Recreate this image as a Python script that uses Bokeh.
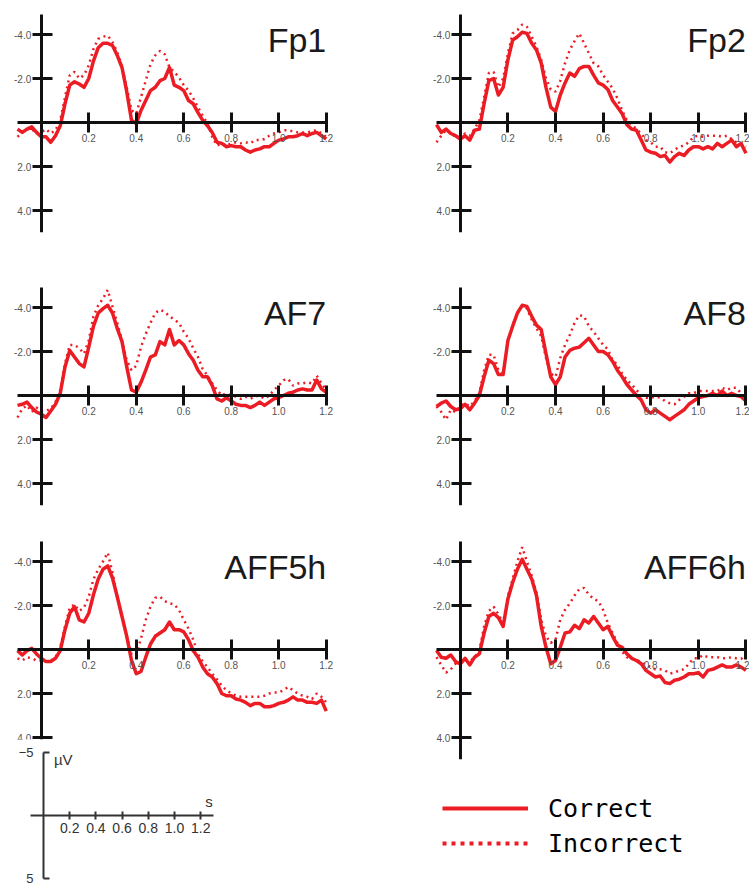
from bokeh.plotting import figure
from bokeh.layouts import row, column
from bokeh.models import Range1d, FixedTicker, NumeralTickFormatter, Label, Legend, LegendItem
from bokeh.embed import file_html
from bokeh.resources import INLINE

# ---------------- data (µV) ----------------
time_s = [-0.10, -0.08, -0.06, -0.04, -0.02, 0.00, 0.02, 0.04, 0.06, 0.08,
          0.10, 0.12, 0.14, 0.16, 0.18, 0.20, 0.22, 0.24, 0.26, 0.28,
          0.30, 0.32, 0.34, 0.36, 0.38, 0.40, 0.42, 0.44, 0.46, 0.48,
          0.50, 0.52, 0.54, 0.56, 0.58, 0.60, 0.62, 0.64, 0.66, 0.68,
          0.70, 0.72, 0.74, 0.76, 0.78, 0.80, 0.82, 0.84, 0.86, 0.88,
          0.90, 0.92, 0.94, 0.96, 0.98, 1.00, 1.02, 1.04, 1.06, 1.08,
          1.10, 1.12, 1.14, 1.16, 1.18, 1.20]

fp1_correct = [0.3, 0.45, 0.3, 0.2, 0.45, 0.65, 0.65, 0.9, 0.6, 0.15,
               -0.85, -1.7, -1.85, -1.75, -1.6, -2.0, -2.8, -3.4, -3.6, -3.6,
               -3.5, -3.05, -2.5, -1.4, -0.1, 0.05, -0.55, -1.0, -1.45, -1.6,
               -1.9, -2.0, -2.5, -1.7, -1.6, -1.45, -1.0, -0.85, -0.45, -0.1,
               0.15, 0.45, 0.9, 0.95, 1.1, 1.05, 1.1, 1.1, 1.25, 1.35,
               1.25, 1.2, 1.1, 1.1, 0.95, 0.8, 0.75, 0.65, 0.65, 0.6,
               0.5, 0.6, 0.5, 0.45, 0.6, 0.75]
fp1_incorrect = [0.65, 0.45, 0.3, 0.3, 0.5, 0.45, 0.3, 0.5, 0.35, -0.1,
                 -1.15, -2.15, -2.3, -2.0, -2.15, -2.6, -3.35, -3.8, -3.9, -3.95,
                 -3.65, -3.2, -2.5, -1.6, -0.55, -0.4, -1.15, -1.9, -2.65, -3.05,
                 -3.25, -3.1, -2.5, -2.3, -2.05, -1.7, -1.45, -1.1, -0.7, -0.3,
                 0.05, 0.65, 1.05, 0.95, 1.05, 0.95, 0.9, 0.95, 0.9, 0.95,
                 0.8, 0.8, 0.75, 0.6, 0.5, 0.45, 0.35, 0.35, 0.4, 0.45,
                 0.45, 0.45, 0.4, 0.35, 0.5, 0.65]

fp2_correct = [0.1, 0.45, 0.3, 0.5, 0.6, 0.75, 0.6, 0.8, 0.35, 0.3,
               -0.85, -1.9, -2.0, -1.25, -1.6, -2.85, -3.75, -3.9, -4.1, -4.05,
               -3.6, -3.3, -2.7, -1.6, -0.7, -0.5, -1.25, -1.8, -2.25, -2.1,
               -2.45, -2.55, -2.55, -2.15, -1.8, -1.7, -1.5, -1.0, -0.7, -0.4,
               0.1, 0.3, 0.35, 0.8, 1.25, 1.35, 1.4, 1.55, 1.5, 1.8,
               1.55, 1.4, 1.5, 1.25, 1.1, 1.1, 1.2, 1.1, 1.2, 0.95,
               1.1, 0.95, 0.8, 1.1, 0.95, 1.4]
fp2_incorrect = [0.9, 0.6, 0.35, 0.5, 0.65, 0.65, 0.5, 0.6, 0.3, -0.1,
                 -1.15, -2.25, -2.3, -1.6, -2.0, -3.15, -4.05, -4.2, -4.45, -4.35,
                 -3.9, -3.45, -2.85, -2.0, -1.5, -1.4, -1.9, -2.7, -3.3, -3.7,
                 -4.05, -3.6, -3.15, -2.7, -2.55, -2.15, -1.85, -1.55, -1.1, -0.55,
                 -0.1, 0.1, 0.3, 0.5, 0.8, 0.9, 1.1, 1.1, 1.35, 1.4,
                 1.25, 1.1, 1.05, 0.9, 0.65, 0.6, 0.65, 0.6, 0.6, 0.6,
                 0.65, 0.6, 0.75, 0.9, 0.95, 1.1]

af7_correct = [0.45, 0.4, 0.3, 0.55, 0.75, 0.85, 1.0, 0.7, 0.4, -0.1,
               -1.3, -2.05, -1.75, -1.45, -1.3, -2.2, -3.15, -3.75, -3.95, -4.1,
               -3.75, -3.05, -2.45, -1.3, -0.25, -0.15, -0.6, -1.15, -1.75, -1.85,
               -2.45, -2.3, -3.0, -2.3, -2.5, -2.3, -1.9, -1.6, -1.15, -0.85,
               -0.85, -0.45, 0.15, 0.25, 0.1, 0.25, 0.4, 0.45, 0.45, 0.55,
               0.45, 0.3, 0.45, 0.3, 0.15, 0.1, 0.0, -0.1, -0.15, -0.25,
               -0.3, -0.25, -0.25, -0.7, -0.3, -0.15]
af7_incorrect = [1.0, 0.6, 0.45, 0.75, 0.55, 0.7, 0.7, 0.6, 0.3, -0.25,
                 -1.45, -2.3, -2.3, -2.15, -1.9, -2.5, -3.6, -4.1, -4.4, -4.8,
                 -4.05, -3.3, -2.5, -1.6, -1.15, -1.35, -2.2, -2.8, -3.3, -3.75,
                 -3.9, -3.8, -3.6, -3.45, -3.3, -2.9, -2.6, -2.15, -1.75, -1.2,
                 -0.9, -0.55, -0.25, 0.0, -0.1, 0.0, 0.05, 0.15, 0.05, 0.15,
                 0.05, 0.0, 0.15, 0.0, -0.25, -0.45, -0.7, -0.75, -0.45, -0.55,
                 -0.55, -0.6, -0.55, -0.9, -0.55, -0.25]

af8_correct = [0.5, 0.35, 0.25, 0.5, 0.65, 0.6, 0.4, 0.65, 0.35, 0.0,
               -0.85, -1.6, -1.45, -0.95, -0.95, -2.5, -3.15, -3.75, -4.1, -4.05,
               -3.6, -3.2, -3.0, -1.9, -0.85, -0.5, -0.85, -1.75, -2.05, -2.15,
               -2.2, -2.4, -2.6, -2.3, -2.0, -2.0, -1.85, -1.55, -1.15, -0.85,
               -0.5, -0.25, 0.0, 0.2, 0.65, 0.8, 0.65, 0.8, 0.95, 1.1,
               0.95, 0.8, 0.65, 0.4, 0.25, 0.1, 0.05, 0.0, -0.1, 0.0,
               -0.2, 0.0, -0.1, 0.0, 0.05, 0.25]
af8_incorrect = [0.5, 0.75, 1.1, 0.65, 0.75, 0.5, 0.35, 0.5, 0.25, -0.1,
                 -1.15, -1.85, -1.85, -1.15, -1.0, -2.45, -3.2, -3.75, -4.1, -3.95,
                 -3.45, -3.05, -2.7, -1.7, -1.0, -0.85, -1.7, -2.3, -2.75, -3.3,
                 -3.65, -3.6, -3.15, -2.9, -2.6, -2.3, -2.1, -1.6, -1.4, -1.0,
                 -0.7, -0.5, -0.25, 0.0, 0.1, 0.1, 0.05, 0.1, 0.25, 0.35,
                 0.4, 0.2, 0.05, -0.1, -0.1, -0.2, -0.2, -0.2, -0.2, -0.2,
                 -0.35, -0.25, -0.35, -0.35, -0.1, 0.2]

aff5h_correct = [0.05, 0.25, 0.05, -0.05, 0.2, 0.4, 0.55, 0.55, 0.4, 0.05,
                 -0.9, -1.65, -1.95, -1.35, -1.25, -1.65, -2.5, -3.2, -3.65, -3.8,
                 -3.25, -2.4, -1.5, -0.6, 0.5, 1.1, 1.0, 0.35, -0.25, -0.6,
                 -0.75, -0.9, -1.25, -0.9, -0.9, -0.8, -0.45, 0.05, 0.35, 0.8,
                 1.1, 1.25, 1.55, 2.0, 2.1, 2.1, 2.25, 2.3, 2.4, 2.55,
                 2.45, 2.45, 2.6, 2.6, 2.55, 2.45, 2.4, 2.3, 2.15, 2.3,
                 2.3, 2.4, 2.4, 2.45, 2.3, 2.8]
aff5h_incorrect = [0.4, 0.5, 0.35, 0.4, 0.5, 0.5, 0.55, 0.5, 0.35, -0.1,
                   -1.05, -1.9, -2.05, -1.75, -1.9, -2.4, -3.2, -3.65, -4.0, -4.4,
                   -3.5, -2.4, -1.5, -0.6, 0.2, 0.25, -0.5, -1.35, -1.95, -2.35,
                   -2.4, -2.2, -2.1, -2.05, -1.8, -1.35, -0.95, -0.45, 0.2, 0.55,
                   0.8, 1.1, 1.35, 1.65, 1.85, 2.0, 2.1, 2.15, 2.15, 2.15,
                   2.15, 2.15, 2.1, 2.0, 1.95, 1.95, 1.85, 1.7, 1.85, 2.0,
                   2.1, 2.15, 2.25, 2.0, 2.15, 2.4]

aff6h_correct = [0.05, 0.35, 0.4, 0.25, 0.55, 0.65, 0.4, 0.7, 0.35, 0.2,
                 -0.75, -1.5, -1.65, -1.45, -1.05, -2.3, -3.05, -3.65, -4.1, -3.65,
                 -3.2, -2.45, -1.05, -0.1, 0.65, 0.5, -0.1, -0.75, -0.8, -1.1,
                 -0.95, -1.35, -1.2, -1.5, -1.2, -0.9, -1.05, -0.6, -0.2, -0.1,
                 0.2, 0.4, 0.5, 0.65, 0.95, 1.1, 1.25, 1.2, 1.5, 1.55,
                 1.4, 1.35, 1.25, 1.1, 1.1, 1.05, 1.25, 0.95, 0.9, 0.8,
                 0.7, 0.8, 0.8, 0.7, 0.8, 0.95]
aff6h_incorrect = [0.35, 0.7, 1.05, 0.9, 0.65, 0.55, 0.5, 0.55, 0.35, 0.05,
                   -1.05, -1.75, -1.95, -1.6, -1.2, -2.45, -3.2, -4.0, -4.65, -4.0,
                   -3.35, -2.6, -1.35, -0.6, -0.3, -0.45, -1.35, -1.8, -2.1, -2.45,
                   -2.75, -2.8, -2.5, -2.3, -2.2, -1.8, -1.2, -0.75, -0.3, 0.1,
                   0.35, 0.4, 0.5, 0.55, 0.7, 0.8, 0.9, 0.9, 0.95, 1.1,
                   1.05, 0.95, 0.9, 0.65, 0.4, 0.4, 0.25, 0.35, 0.35, 0.35,
                   0.4, 0.4, 0.35, 0.4, 0.4, 0.55]

channels = ["Fp1", "Fp2", "AF7", "AF8", "AFF5h", "AFF6h"]
x_ticks = [0.2, 0.4, 0.6, 0.8, 1.0, 1.2]
y_ticks = [-4.0, -2.0, 2.0, 4.0]
scale_x_ticks = [0.2, 0.4, 0.6, 0.8, 1.0, 1.2]
scale_y_ticks = [-5, 5]
scale_y_labels = {-5: "\u22125", 5: "5"}
legend_labels = ["Correct", "Incorrect"]

RED = "#ec1c24"
INK = "#111111"

LEFT_BORDERS = (10, 45)     # frame of left column spans x = 10 .. 335
RIGHT_BORDERS = (49, 0)     # frame of right column spans x = 429 .. 749


def erp_panel(name, correct, incorrect, left_col, height, top, bottom, y_low):
    if left_col:
        width, (b_left, b_right), x_start, x_end = 380, LEFT_BORDERS, -0.1295, 1.239
    else:
        width, (b_left, b_right), x_start, x_end = 369, RIGHT_BORDERS, -0.1294, 1.215
    p = figure(width=width, height=height, output_backend="svg", toolbar_location=None,
               x_range=Range1d(x_start, x_end), y_range=Range1d(y_low, -5.0),
               min_border_left=b_left, min_border_right=b_right,
               min_border_top=top, min_border_bottom=bottom)
    p.grid.visible = False
    p.outline_line_color = None

    p.line(time_s, incorrect, line_color=RED, line_width=2.5, line_dash="2 4")
    p.line(time_s, correct, line_color=RED, line_width=3.5, line_join="round")

    xa = p.xaxis[0]
    ya = p.yaxis[0]
    xa.fixed_location = 0
    ya.fixed_location = 0
    xa.bounds = (-0.1, 1.2)
    ya.bounds = (-4.9, min(5.0, y_low))
    xa.ticker = FixedTicker(ticks=x_ticks)
    ya.ticker = FixedTicker(ticks=y_ticks)
    xa.formatter = NumeralTickFormatter(format="0.0")
    ya.formatter = NumeralTickFormatter(format="0.0")
    for ax in (xa, ya):
        ax.minor_tick_line_color = None
        ax.axis_line_width = 3
        ax.axis_line_color = INK
        ax.major_tick_line_width = 3
        ax.major_tick_line_color = INK
        ax.major_label_text_font = "Liberation Sans"
        ax.major_label_text_font_size = "10px"
        ax.major_label_text_color = "#555555"
    xa.major_tick_in = 10
    xa.major_tick_out = 10
    xa.major_label_standoff = 1
    ya.major_tick_in = 11
    ya.major_tick_out = 9
    ya.major_label_standoff = 1

    p.add_layout(Label(x=1.2, y=-3.77, text=name, text_align="right",
                       text_baseline="alphabetic", text_font="Liberation Sans",
                       text_font_size="34px", text_color="#1a1a1a"))
    return p


p_fp1 = erp_panel(channels[0], fp1_correct, fp1_incorrect, True, 260, 12, 28, 5.0)
p_fp2 = erp_panel(channels[1], fp2_correct, fp2_incorrect, False, 260, 12, 28, 5.0)
p_af7 = erp_panel(channels[2], af7_correct, af7_incorrect, True, 260, 25, 15, 5.0)
p_af8 = erp_panel(channels[3], af8_correct, af8_incorrect, False, 260, 25, 15, 5.0)
p_aff5h = erp_panel(channels[4], aff5h_correct, aff5h_incorrect, True, 224, 19, 5, 4.09)
p_aff6h = erp_panel(channels[5], aff6h_correct, aff6h_incorrect, False, 259, 19, 20, 5.0)

# ---------------- scale-bar key (frame aligned with the left column) ----------------
s = figure(width=380, height=142, output_backend="svg", toolbar_location=None,
           x_range=Range1d(-0.2519, 2.229), y_range=Range1d(5.635, -5.635),
           min_border_left=LEFT_BORDERS[0], min_border_right=LEFT_BORDERS[1],
           min_border_top=0, min_border_bottom=0)
s.grid.visible = False
s.outline_line_color = None
sx = s.xaxis[0]
sy = s.yaxis[0]
sx.fixed_location = 0
sy.fixed_location = 0
sx.bounds = (-0.1, 1.3)
sy.bounds = (-5, 5)
sx.ticker = FixedTicker(ticks=scale_x_ticks)
sy.ticker = FixedTicker(ticks=scale_y_ticks)
sx.formatter = NumeralTickFormatter(format="0.0")
sy.major_label_overrides = scale_y_labels
for ax in (sx, sy):
    ax.minor_tick_line_color = None
    ax.axis_line_width = 2
    ax.axis_line_color = "#333333"
    ax.major_tick_line_width = 2
    ax.major_tick_line_color = "#333333"
    ax.major_label_text_font = "Liberation Sans"
    ax.major_label_text_font_size = "14px"
    ax.major_label_text_color = "#333333"
sy.major_label_text_font_size = "13px"
sx.major_tick_in = 4
sx.major_tick_out = 4
sx.major_label_standoff = 3
sy.major_tick_in = 6
sy.major_tick_out = 0
sy.major_label_standoff = 10
s.add_layout(Label(x=0.08, y=-4.44, text="\u00b5V", text_align="left", text_baseline="middle",
                   text_font="Liberation Sans", text_font_size="15px", text_color="#333333"))
s.add_layout(Label(x=1.263, y=-1.11, text="s", text_align="center", text_baseline="middle",
                   text_font="Liberation Sans", text_font_size="15px", text_color="#333333"))

# ---------------- line legend (frame aligned with the right column) ----------------
lg = figure(width=369, height=107, output_backend="svg", toolbar_location=None,
            x_range=Range1d(0, 1), y_range=Range1d(0, 1), x_axis_type=None, y_axis_type=None,
            min_border_left=RIGHT_BORDERS[0], min_border_right=RIGHT_BORDERS[1],
            min_border_top=0, min_border_bottom=0)
lg.outline_line_color = None
r_c = lg.line(x=[float("nan")], y=[float("nan")], line_color=RED, line_width=4)
r_i = lg.line(x=[float("nan")], y=[float("nan")], line_color=RED, line_width=4, line_dash="4 5")
legend = Legend(items=[LegendItem(label=legend_labels[0], renderers=[r_c]),
                       LegendItem(label=legend_labels[1], renderers=[r_i])],
                location=(13, 28), glyph_width=86, glyph_height=30, label_height=30,
                spacing=5, padding=0, margin=0, label_standoff=20,
                border_line_color=None, background_fill_alpha=0,
                label_text_font="DejaVu Sans Mono", label_text_font_size="25px",
                label_text_color="#000000")
lg.add_layout(legend)

layout = row(column(p_fp1, p_af7, p_aff5h, s), column(p_fp2, p_af8, p_aff6h, lg))

open("out.html", "w").write(file_html(layout, INLINE))
